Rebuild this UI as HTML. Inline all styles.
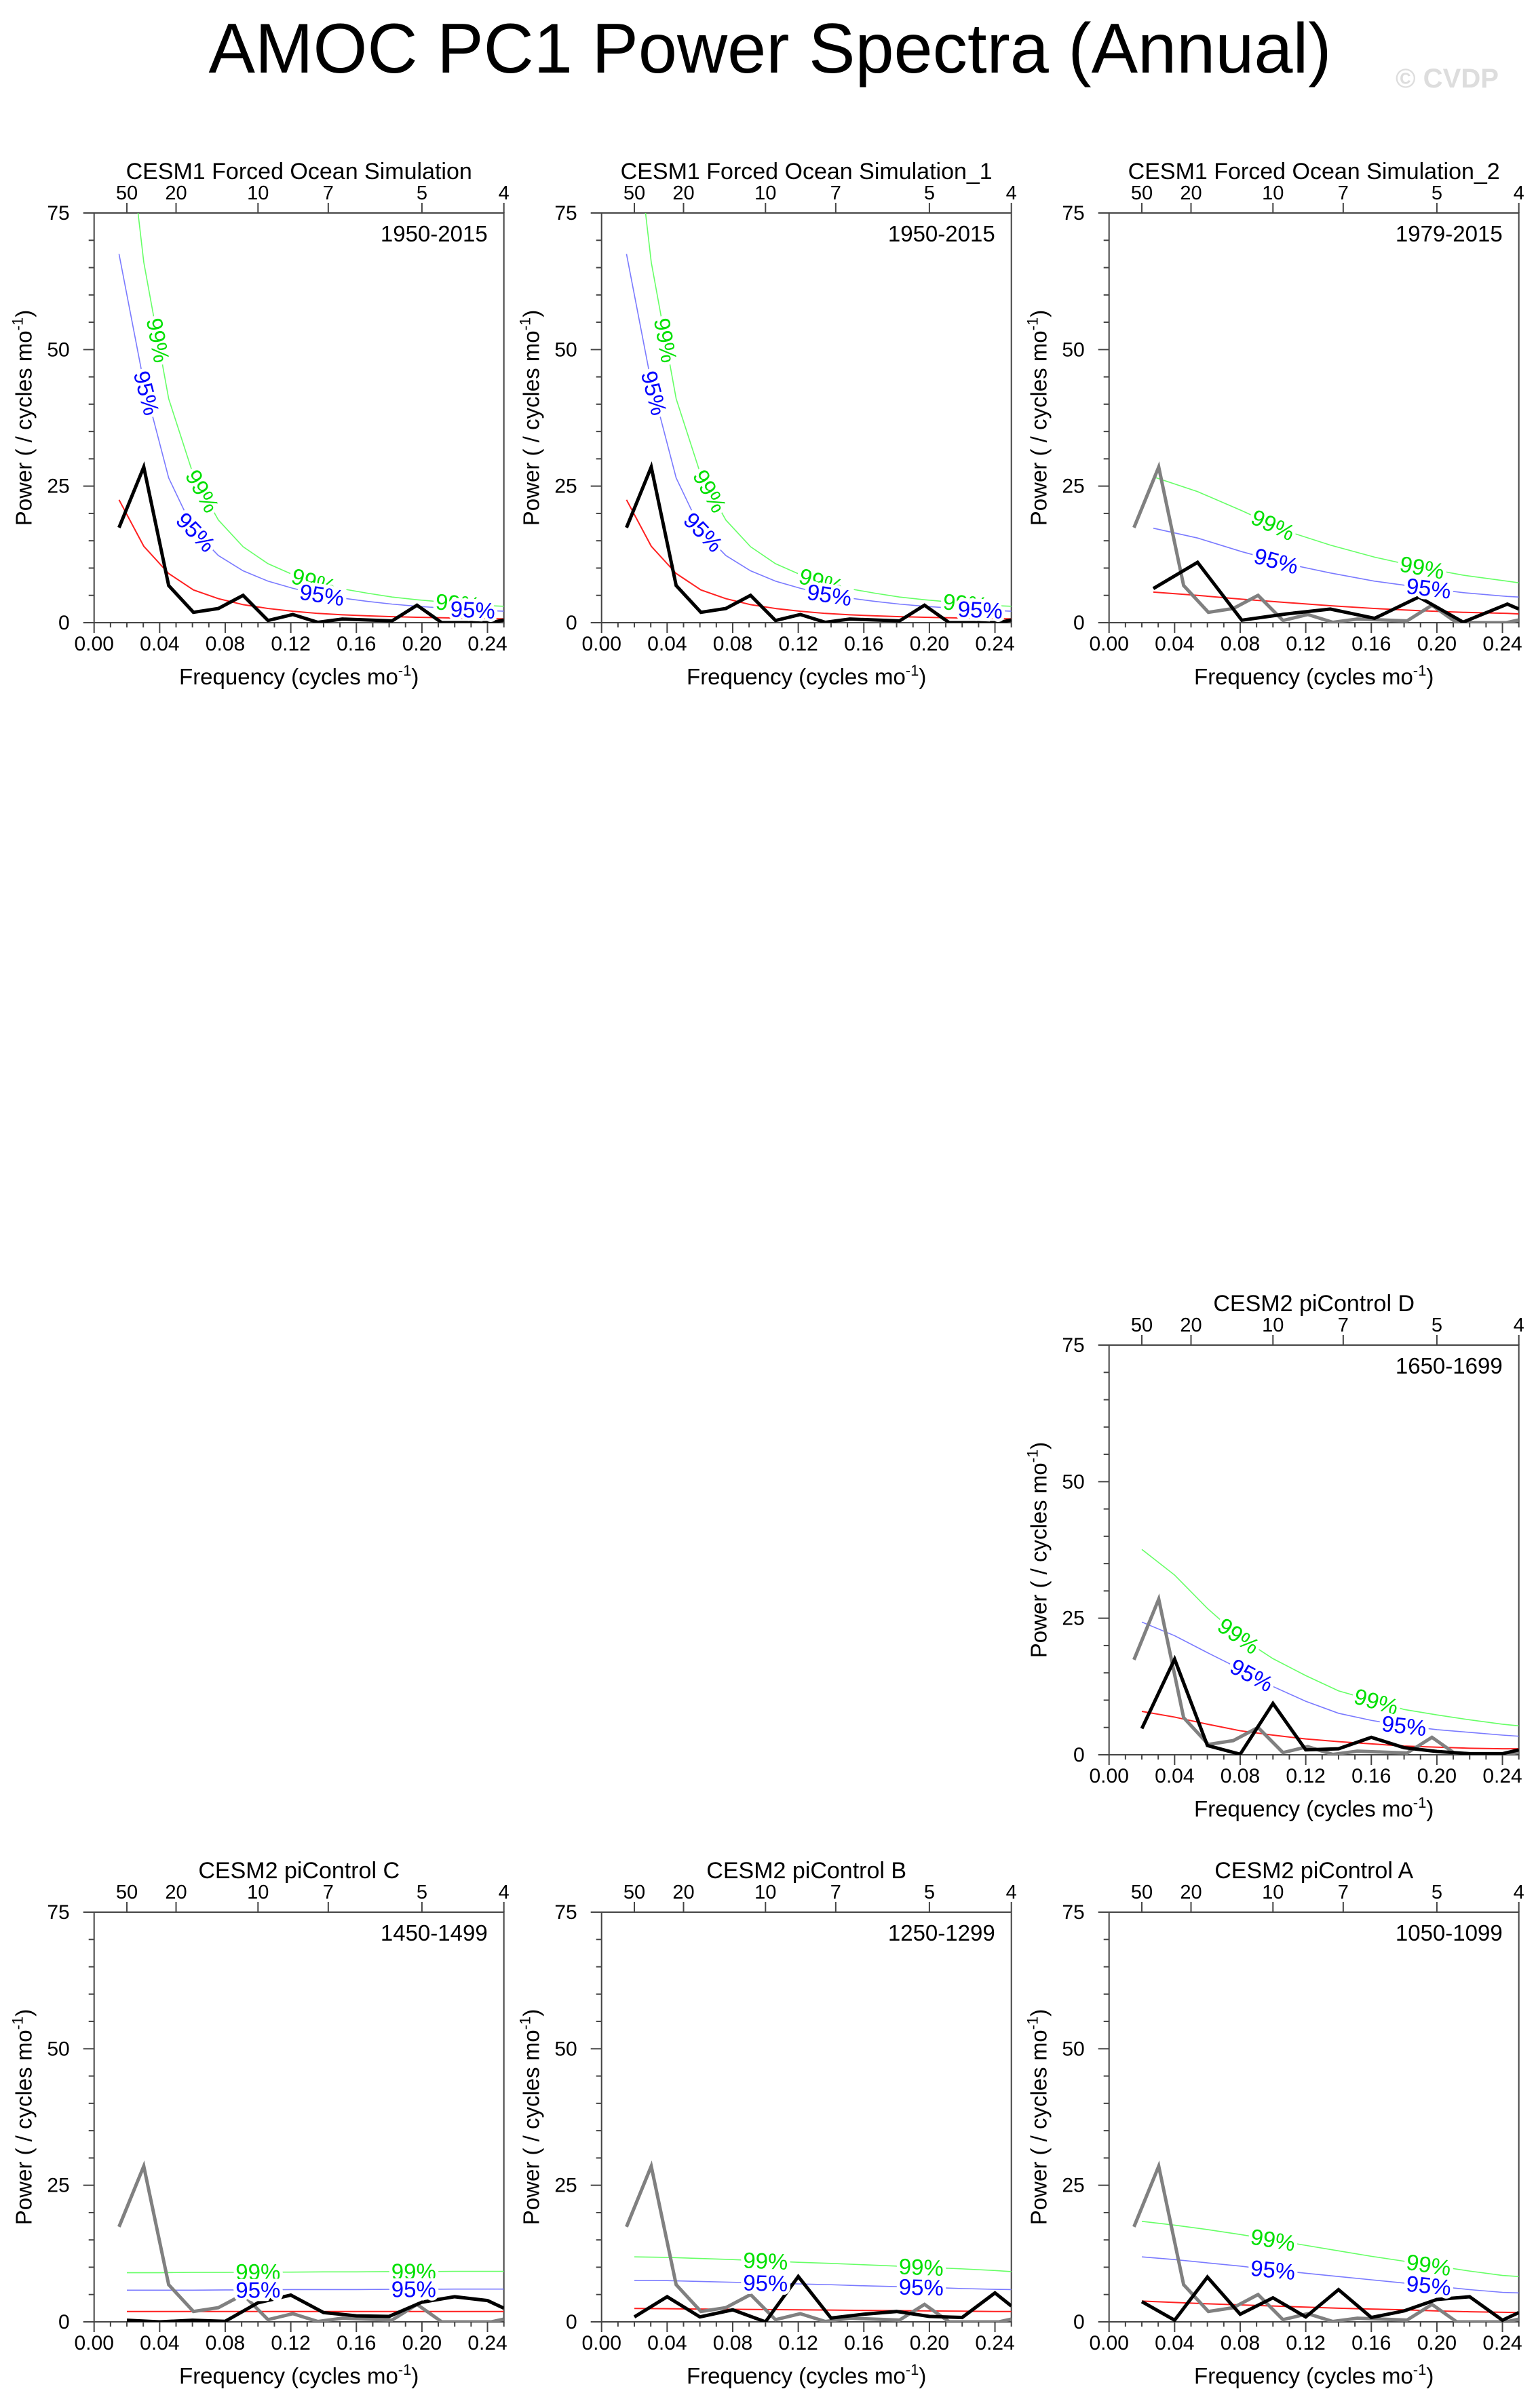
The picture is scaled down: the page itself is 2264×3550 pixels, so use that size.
<!DOCTYPE html>
<html><head><meta charset="utf-8"><style>
html,body{margin:0;padding:0;background:#fff}
svg{display:block;font-family:"Liberation Sans",sans-serif}
</style></head><body>
<svg id="root" width="2264" height="3550" viewBox="0 0 2264 3550" xmlns="http://www.w3.org/2000/svg">
<text x="1135" y="107" font-size="104" text-anchor="middle" textLength="1655" lengthAdjust="spacingAndGlyphs">AMOC PC1 Power Spectra (Annual)</text>
<text x="2209" y="129" font-size="40" font-weight="bold" fill="#dddddd" text-anchor="end" textLength="152" lengthAdjust="spacingAndGlyphs">© CVDP</text>
</svg>
<script>
// ---- data ----
const freq66 = [0.0152,0.0303,0.0455,0.0606,0.0758,0.0909,0.1061,0.1212,0.1364,0.1515,0.1667,0.1818,0.1970,0.2121,0.2273,0.2424,0.25];
const freq37 = [0.027,0.054,0.081,0.108,0.135,0.162,0.189,0.216,0.243,0.25];
const freq50 = [0.02,0.04,0.06,0.08,0.10,0.12,0.14,0.16,0.18,0.20,0.22,0.24,0.25];

const refPower = [17.4,28.5,6.8,1.9,2.6,5.0,0.4,1.5,0.07,0.66,0.5,0.33,3.2,0,0,0,0.5];
const refRed   = [22.5,14,9,6,4.4,3.3,2.6,2.1,1.7,1.45,1.25,1.1,1.0,0.9,0.8,0.75,0.7];
const refBlue  = [67.5,44,26.5,17,12.3,9.5,7.6,6.3,5.2,4.5,3.9,3.4,3.0,2.7,2.4,2.2,2.1];
const refGreen = [105,66,41,27,18.8,13.9,10.8,8.8,7.3,6.2,5.4,4.7,4.2,3.8,3.4,3.1,3.0];

const s2Power = [6.25,11.05,0.45,1.6,2.5,0.8,4.7,0.1,3.4,2.5];
const s2Red   = [5.6,5.0,4.3,3.7,3.1,2.6,2.2,1.9,1.7,1.6];
const s2Blue  = [17.3,15.5,13,10.8,9.1,7.6,6.5,5.5,4.8,4.7];
const s2Green = [26.7,24,20.5,16.8,14.2,12,10.2,8.7,7.6,7.3];

const dPower = [4.8,17.5,1.7,0.1,9.4,0.9,1.1,3.2,1.3,0.6,0.2,0.2,0.9];
const dRed   = [7.95,6.9,5.6,4.4,3.6,2.9,2.4,2.0,1.6,1.4,1.2,1.1,1.1];
const dBlue  = [24.3,21.8,18.7,15.7,12.5,9.8,7.6,6.3,5.3,4.6,4.1,3.6,3.4];
const dGreen = [37.6,32.9,26.8,21.5,17.6,14.5,11.7,10,8.3,7.3,6.4,5.6,5.3];

const cPower = [0.3,0,0.3,0.1,3.5,4.9,1.7,1.1,1.0,3.6,4.6,3.9,2.5];
const cRed   = [1.9,1.9,1.9,1.9,1.9,1.9,1.9,1.9,1.9,1.9,1.9,1.9,1.9];
const cBlue  = [5.8,5.8,5.8,5.85,5.85,5.9,5.9,5.9,5.95,5.95,6.0,6.0,6.0];
const cGreen = [9.0,9.0,9.05,9.05,9.1,9.1,9.15,9.15,9.2,9.2,9.25,9.25,9.25];

const bPower = [0.9,4.6,0.9,2.2,0,8.3,0.7,1.4,1.9,1.0,0.8,5.3,2.9];
const bRed   = [2.45,2.4,2.35,2.3,2.25,2.2,2.15,2.1,2.05,2.0,1.95,1.9,1.9];
const bBlue  = [7.6,7.55,7.4,7.25,7.1,6.95,6.8,6.6,6.45,6.3,6.1,5.95,5.9];
const bGreen = [11.9,11.8,11.6,11.4,11.15,10.9,10.7,10.45,10.2,9.95,9.7,9.4,9.2];

const aPower = [3.7,0.3,8.2,1.4,4.4,0.9,5.9,0.8,2.0,4.1,4.6,0.3,1.7];
const aRed   = [3.8,3.55,3.3,3.1,2.9,2.7,2.5,2.35,2.2,2.0,1.85,1.75,1.7];
const aBlue  = [11.9,11.4,10.8,10.2,9.5,8.9,8.3,7.7,7.1,6.5,5.9,5.4,5.3];
const aGreen = [18.4,17.7,16.9,16.0,15.0,14.0,13.0,12.0,11.1,10.2,9.3,8.5,8.3];

const yTicks = [0,25,50,75];
const xTicks = [0,0.04,0.08,0.12,0.16,0.20,0.24];
const xTickLabels = ["0.00","0.04","0.08","0.12","0.16","0.20","0.24"];
const periodTicks = [50,20,10,7,5,4];

const NS="http://www.w3.org/2000/svg";
const root=document.getElementById('root');
function mk(tag,attrs,parent){const e=document.createElementNS(NS,tag);for(const k in attrs)e.setAttribute(k,attrs[k]);(parent||root).appendChild(e);return e;}

const W=604,H=604,XMAX=0.25,YMAX=75;
let cid=0;
function panel(opt){
  const L=opt.x,T=opt.y;
  const sx=f=>L+f/XMAX*W, sy=v=>T+H-v/YMAX*H;
  const g=mk('g',{});
  
  
  cid++;
  const cp=mk('clipPath',{id:'c'+cid},g);
  mk('rect',{x:L,y:T,width:W,height:H},cp);
  const t=mk('text',{x:L+W/2,y:T-50,'font-size':34,'text-anchor':'middle'},g);
  t.textContent=opt.title;
  
  
  const yr=mk('text',{x:L+W-24,y:T+42,'font-size':33,'text-anchor':'end'},g);
  yr.textContent=opt.years;
  
  
  const fr=mk('rect',{x:L,y:T,width:W,height:H,fill:'none',stroke:'#444','stroke-width':2},g);
  
  
  for(let v=0;v<=75;v+=5){const maj=v%25===0;mk('line',{x1:L-(maj?16:8),x2:L,y1:sy(v),y2:sy(v),stroke:'#444','stroke-width':2},g);}
  yTicks.forEach(v=>{const tx=mk('text',{x:L-36,y:sy(v)+10,'font-size':30,'text-anchor':'end'},g);tx.textContent=v;
    
    });
  for(let i=0;i<=25;i++){const f=i/100;const maj=i%4===0;mk('line',{x1:sx(f),x2:sx(f),y1:T+H,y2:T+H+(maj?15:7),stroke:'#444','stroke-width':2},g);}
  xTicks.forEach((f,i)=>{const tx=mk('text',{x:sx(f),y:T+H+41,'font-size':30,'text-anchor':'middle'},g);tx.textContent=xTickLabels[i];
    
    });
  periodTicks.forEach(p=>{const x=sx(1/p);mk('line',{x1:x,x2:x,y1:T,y2:T-15,stroke:'#444','stroke-width':2},g);
    const tx=mk('text',{x:x,y:T-20,'font-size':29,'text-anchor':'middle'},g);tx.textContent=p;
    
    });
  const xl=mk('text',{x:L+W/2,y:T+H+91,'font-size':33,'text-anchor':'middle'},g);
  xl.innerHTML='Frequency (cycles mo<tspan dy="-13" font-size="22">-1</tspan><tspan dy="13">)</tspan>';
  
  
  const yl=mk('text',{x:0,y:0,'font-size':33,'text-anchor':'middle',transform:`translate(${L-92},${T+H/2}) rotate(-90)`},g);
  yl.innerHTML='Power ( / cycles mo<tspan dy="-13" font-size="22">-1</tspan><tspan dy="13">)</tspan>';
  
  
  const lg=mk('g',{'clip-path':`url(#c${cid})`},g);
  function line(fr,vals,col,w,name){
    const p=mk('polyline',{points:vals.map((v,i)=>sx(fr[i])+','+sy(v)).join(' '),fill:'none',stroke:col,'stroke-width':w,'stroke-linejoin':'miter'},lg);
    
    
  }
  line(opt.f,opt.red,'#ff2020',2,'red-noise-line');
  line(opt.f,opt.blue,'#7a7aff',1.6,'ci95-line');
  line(opt.f,opt.green,'#66ff66',1.6,'ci99-line');
  if(opt.ref) line(freq66,refPower,'#808080',5,'reference-spectrum');
  line(opt.f,opt.p,'#000',5,'power-spectrum');
  function interp(fr,vals,f){for(let i=0;i<fr.length-1;i++){if(f>=fr[i]&&f<=fr[i+1]){const r=(f-fr[i])/(fr[i+1]-fr[i]);return vals[i]+r*(vals[i+1]-vals[i]);}}return vals[vals.length-1];}
  function lab(fr,vals,f,txt,col,name){
    const x=sx(f),y=sy(interp(fr,vals,f));
    const x2=sx(f+0.004),y2=sy(interp(fr,vals,f+0.004));
    let a=Math.atan2(y2-y,x2-x)*180/Math.PI;
    const tx=mk('text',{x:0,y:0,'font-size':33,'text-anchor':'middle','dominant-baseline':'central',fill:col,stroke:'#fff','stroke-width':10,'paint-order':'stroke',transform:`translate(${x},${y}) rotate(${a})`},lg);
    tx.textContent=txt;
    
    
  }
  (opt.g99||[]).forEach(f=>lab(opt.f,opt.green,f,'99%','#00e000','label-99'));
  (opt.b95||[]).forEach(f=>lab(opt.f,opt.blue,f,'95%','#0000ff','label-95'));
}
const C1=138.7,C2=886.7,C3=1634.7,R1=314,R2=1983,R3=2819;
panel({name:'panel-forced-ocean',x:C1,y:R1,title:'CESM1 Forced Ocean Simulation',years:'1950-2015',f:freq66,p:refPower,red:refRed,blue:refBlue,green:refGreen,g99:[0.039,0.066,0.134,0.222],b95:[0.032,0.062,0.139,0.231]});
panel({name:'panel-forced-ocean-1',x:C2,y:R1,title:'CESM1 Forced Ocean Simulation_1',years:'1950-2015',f:freq66,p:refPower,red:refRed,blue:refBlue,green:refGreen,g99:[0.039,0.066,0.134,0.222],b95:[0.032,0.062,0.139,0.231]});
panel({name:'panel-forced-ocean-2',x:C3,y:R1,title:'CESM1 Forced Ocean Simulation_2',years:'1979-2015',f:freq37,p:s2Power,red:s2Red,blue:s2Blue,green:s2Green,ref:true,g99:[0.1,0.191],b95:[0.102,0.195]});
panel({name:'panel-picontrol-d',x:C3,y:R2,title:'CESM2 piControl D',years:'1650-1699',f:freq50,p:dPower,red:dRed,blue:dBlue,green:dGreen,ref:true,g99:[0.079,0.163],b95:[0.087,0.18]});
panel({name:'panel-picontrol-c',x:C1,y:R3,title:'CESM2 piControl C',years:'1450-1499',f:freq50,p:cPower,red:cRed,blue:cBlue,green:cGreen,ref:true,g99:[0.1,0.195],b95:[0.1,0.195]});
panel({name:'panel-picontrol-b',x:C2,y:R3,title:'CESM2 piControl B',years:'1250-1299',f:freq50,p:bPower,red:bRed,blue:bBlue,green:bGreen,ref:true,g99:[0.1,0.195],b95:[0.1,0.195]});
panel({name:'panel-picontrol-a',x:C3,y:R3,title:'CESM2 piControl A',years:'1050-1099',f:freq50,p:aPower,red:aRed,blue:aBlue,green:aGreen,ref:true,g99:[0.1,0.195],b95:[0.1,0.195]});
</script>
</body></html>
